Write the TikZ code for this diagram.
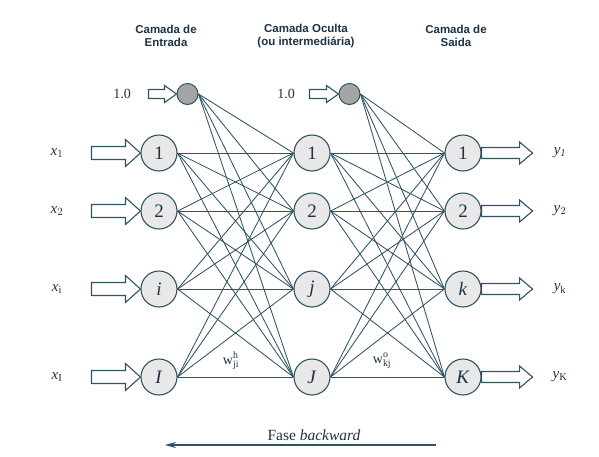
\documentclass[tikz,border=0pt]{standalone}
\usepackage{fontspec}
\setmainfont{Liberation Serif}
\newfontfamily\hdrfont{Liberation Sans}
\usetikzlibrary{calc,arrows.meta,backgrounds}

\definecolor{wire}{RGB}{48,84,100}
\definecolor{ink}{RGB}{28,50,70}
\definecolor{cellfill}{RGB}{232,232,232}
\definecolor{biasfill}{RGB}{165,165,165}

\tikzset{
  neuron/.style={circle, draw=wire, line width=1.1pt, fill=cellfill,
    minimum size=36pt, inner sep=0pt, text=ink, font=\fontsize{19}{20}\selectfont},
  biasnode/.style={circle, draw=wire, line width=1pt, fill=biasfill,
    minimum size=21pt, inner sep=0pt},
  link/.style={draw=wire, line width=0.85pt},
  hollow/.style={draw=wire, line width=1.1pt, fill=white, line join=miter},
  header/.style={font=\hdrfont\bfseries\fontsize{11.5}{13.5}\selectfont,
    text=ink, align=center},
  lab/.style={text=ink, font=\fontsize{15}{17}\selectfont, inner sep=1pt},
  wlab/.style={text=ink, font=\fontsize{14}{16}\selectfont, inner sep=1pt},
}

% hollow block arrow: start, tip, half shaft width, half head width, head length
\newcommand\hollowarrow[5]{%
  \path[hollow] ($(#1)+(0,#3)$) -- ($(#2)+(-#5,#3)$) -- ($(#2)+(-#5,#4)$)
    -- (#2) -- ($(#2)+(-#5,-#4)$) -- ($(#2)+(-#5,-#3)$) -- ($(#1)+(0,-#3)$) -- cycle;}

\begin{document}
\begin{tikzpicture}[x=1pt,y=-1pt]
\useasboundingbox (0,0) rectangle (599,456);

% layer headers
\node[header] (hIn)  at (166,36) {Camada de\\Entrada};
\node[header] (hHid) at (306,36) {Camada Oculta\\(ou intermediária)};
\node[header] (hOut) at (456,36) {Camada de\\Saida};

% bias units
\node[biasnode] (ib) at (187.5,94) {};
\node[biasnode] (hb) at (349.5,94) {};
\node[lab, font=\fontsize{14}{16}\selectfont] (ibl) at (122,94) {1.0};
\node[lab, font=\fontsize{14}{16}\selectfont] (hbl) at (286,94) {1.0};

% input layer
\node[neuron] (i1) at (159,153) {1};
\node[neuron] (i2) at (159,211) {2};
\node[neuron] (i3) at (159,289) {\textit{i}};
\node[neuron] (i4) at (159,377) {\textit{I}};

% hidden layer
\node[neuron] (h1) at (312,153) {1};
\node[neuron] (h2) at (312,211) {2};
\node[neuron] (h3) at (312,289) {\textit{j}};
\node[neuron] (h4) at (312,377) {\textit{J}};

% output layer
\node[neuron] (o1) at (463,153) {1};
\node[neuron] (o2) at (463,211) {2};
\node[neuron] (o3) at (463,289) {\textit{k}};
\node[neuron] (o4) at (463,377) {\textit{K}};

% input and output signal labels
\node[lab] (x1) at (57,153) {$\mathit{x}_{1}$};
\node[lab] (x2) at (57,211) {$\mathit{x}_{2}$};
\node[lab] (x3) at (57,289) {$\mathit{x}_{\mathrm{i}}$};
\node[lab] (x4) at (57,377) {$\mathit{x}_{\mathrm{I}}$};
\node[lab] (y1) at (560,153) {$\mathit{y}_{\mathit{1}}$};
\node[lab] (y2) at (560,211) {$\mathit{y}_{2}$};
\node[lab] (y3) at (560,289) {$\mathit{y}_{\mathrm{k}}$};
\node[lab] (y4) at (560,377) {$\mathit{y}_{\mathrm{K}}$};

% weighted connections, kept behind the units
\begin{scope}[on background layer]
\fill[white] (0,0) rectangle (599,456);
\foreach \a in {ib,i1,i2,i3,i4}
  \foreach \b in {h1,h2,h3,h4}
    \draw[link] (\a.east) -- (\b.west);
\foreach \a in {hb,h1,h2,h3,h4}
  \foreach \b in {o1,o2,o3,o4}
    \draw[link] (\a.east) -- (\b.west);
\end{scope}

% weight labels
\node[wlab] (wh) at (231,361) {$\mathrm{w}^{\mathrm{h}}_{\mathrm{ji}}$};
\node[wlab] (wo) at (382,361) {$\mathrm{w}^{\mathrm{o}}_{\mathrm{kj}}$};

% hollow signal arrows
\foreach \n in {i1,i2,i3,i4}{
  \coordinate (s\n) at ($(\n.west)+(-49,0)$);
  \hollowarrow{s\n}{\n.west}{6.5}{13.5}{15}
}
\foreach \n in {o1,o2,o3,o4}{
  \coordinate (t\n) at ($(\n.east)+(51,0)$);
  \hollowarrow{\n.east}{t\n}{5.5}{11}{13}
}
\coordinate (sib) at ($(ib.west)+(-28,0)$);
\hollowarrow{sib}{ib.west}{4.5}{8.5}{12}
\coordinate (shb) at ($(hb.west)+(-29,0)$);
\hollowarrow{shb}{hb.west}{4.5}{8.5}{12}

% backward phase arrow
\coordinate (bwR) at (436,445);
\coordinate (bwL) at (165,445);
\draw[wire, line width=1.1pt, -{Stealth[length=11pt,width=6pt]}] (bwR) -- (bwL);
\node[text=ink, font=\fontsize{15.5}{17}\selectfont] (fase) at (314,435) {Fase \textit{backward}};
\end{tikzpicture}
\end{document}
